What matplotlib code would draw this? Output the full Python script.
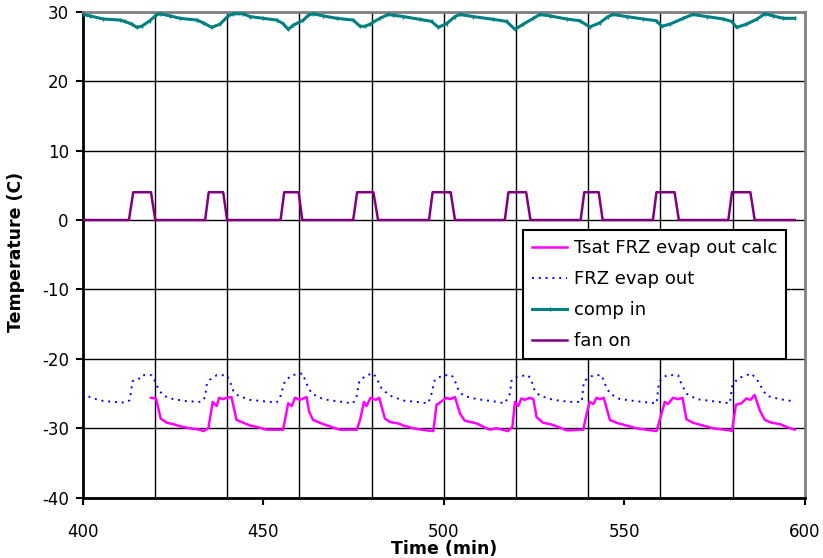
import numpy as np
import matplotlib
matplotlib.use("Agg")
import matplotlib.pyplot as plt
from matplotlib.ticker import MultipleLocator

plt.rcParams['font.family'] = ['DejaVu Sans']
plt.rcParams['axes.unicode_minus'] = False

# --- data (time in min, temperature in C) ---
tsat_t = [418.9, 420.3, 421.6, 423.3, 425.1, 426.9, 429.7, 432.5, 433.4, 434.8,
          436.0, 437.1, 437.8, 438.9, 439.9, 441.2, 442.6, 444.5, 446.3, 448.2,
          450.9, 455.5, 456.9, 457.9, 458.8, 460.2, 462.0, 462.7, 463.8, 466.6,
          469.4, 471.2, 475.9, 476.8, 477.9, 478.6, 479.7, 481.2, 482.1, 483.7,
          485.1, 487.4, 488.8, 491.5, 495.2, 497.1, 498.0, 498.9, 500.8, 501.7,
          503.1, 504.5, 505.8, 509.1, 511.8, 512.8, 514.6, 517.8, 519.0, 519.7,
          520.6, 521.5, 522.4, 523.8, 524.8, 525.7, 527.5, 529.4, 531.2, 534.0,
          538.6, 539.7, 540.4, 541.4, 542.3, 543.2, 544.3, 546.0, 547.8, 550.6,
          553.4, 556.1, 558.9, 559.8, 561.2, 562.1, 563.5, 564.9, 566.1, 567.2,
          569.0, 571.8, 574.6, 579.2, 579.8, 580.9, 582.4, 583.8, 584.9, 586.1,
          587.5, 588.9, 590.8, 593.1, 594.9, 597.2]
tsat_v = [-25.6, -25.7, -28.6, -29.2, -29.4, -29.7, -30.0, -30.2, -30.4, -30.0,
          -26.2, -26.8, -25.6, -25.8, -25.6, -25.5, -28.8, -29.2, -29.6, -29.8,
          -30.2, -30.2, -26.4, -26.8, -25.6, -25.9, -25.5, -27.6, -28.8, -29.4,
          -29.9, -30.2, -30.2, -28.8, -26.2, -26.8, -25.6, -25.9, -25.6, -28.6,
          -29.1, -29.3, -29.6, -30.0, -30.3, -30.4, -26.6, -26.3, -25.6, -25.8,
          -25.5, -27.9, -28.9, -29.3, -30.0, -30.2, -30.0, -30.4, -29.8, -26.2,
          -26.8, -25.7, -25.9, -25.6, -25.8, -28.4, -29.2, -29.4, -29.7, -30.3,
          -30.2, -27.6, -26.2, -26.5, -25.6, -25.8, -25.6, -28.8, -29.2, -29.6,
          -30.0, -30.2, -30.4, -28.8, -26.2, -26.5, -25.6, -25.8, -25.6, -28.7,
          -29.2, -29.6, -30.0, -30.3, -30.4, -26.6, -26.4, -25.7, -25.9, -25.2,
          -27.4, -28.8, -29.2, -29.4, -29.8, -30.2]

evap_t = [400.0, 402.0, 404.8, 408.5, 411.7, 412.9, 413.3, 413.8, 415.4, 416.3,
          419.1, 420.0, 420.9, 422.3, 425.1, 428.8, 432.9, 433.9, 434.3, 435.2,
          437.1, 439.9, 440.8, 441.7, 443.1, 446.3, 450.0, 453.7, 454.8, 456.0,
          457.9, 460.9, 462.0, 463.4, 466.6, 470.3, 474.9, 475.9, 476.6, 478.6,
          480.5, 481.4, 482.8, 485.1, 488.8, 492.5, 495.7, 496.6, 497.5, 499.8,
          502.2, 503.1, 504.0, 505.4, 509.1, 513.7, 516.9, 518.3, 518.8, 520.6,
          523.4, 524.3, 525.2, 526.6, 530.3, 534.9, 538.2, 538.8, 541.4, 543.7,
          544.6, 546.0, 548.8, 553.4, 558.9, 559.6, 561.7, 564.9, 565.8, 567.2,
          570.0, 574.6, 579.2, 579.9, 581.5, 585.2, 587.0, 588.0, 589.4, 593.0,
          596.7]
evap_v = [-24.9, -25.5, -26.0, -26.2, -26.3, -26.0, -25.0, -23.2, -23.0, -22.35,
          -22.35, -23.2, -24.3, -25.3, -25.8, -26.1, -26.2, -25.5, -23.8, -23.0,
          -22.35, -22.35, -23.3, -24.6, -25.3, -25.9, -26.1, -26.3, -25.3, -23.2,
          -22.35, -22.1, -23.6, -25.0, -25.8, -26.1, -26.4, -25.3, -23.2, -22.35,
          -22.1, -22.8, -24.3, -25.3, -26.0, -26.2, -26.4, -25.0, -23.0, -22.35,
          -22.35, -23.2, -24.4, -25.3, -25.8, -26.1, -26.4, -25.0, -23.0, -22.5,
          -22.35, -23.2, -24.6, -25.3, -25.9, -26.2, -26.2, -23.2, -22.35, -22.35,
          -23.6, -25.0, -25.8, -26.1, -26.4, -23.3, -22.35, -22.35, -23.6, -25.0,
          -25.8, -26.1, -26.4, -23.8, -22.8, -22.1, -23.2, -24.1, -25.3, -25.8,
          -26.1]

comp_t = [400.0, 402.0, 405.7, 410.3, 411.7, 413.6, 415.0, 416.3, 418.6, 420.3,
          421.4, 424.2, 426.9, 431.6, 433.4, 435.7, 438.0, 440.3, 441.7, 444.5,
          446.3, 450.0, 453.7, 455.5, 456.9, 458.3, 461.1, 462.5, 463.8, 466.6,
          470.3, 474.9, 476.8, 478.2, 479.5, 482.3, 484.6, 486.0, 488.8, 493.4,
          496.6, 498.5, 500.8, 503.1, 504.5, 508.1, 513.7, 517.4, 519.7, 522.0,
          524.8, 526.6, 529.4, 534.0, 537.7, 540.4, 543.2, 545.5, 546.9, 550.6,
          555.2, 558.9, 560.3, 562.6, 566.3, 569.0, 572.8, 577.4, 579.7, 581.1,
          583.8, 586.6, 588.9, 591.2, 594.0, 597.2]
comp_v = [29.6, 29.4, 28.95, 28.8, 28.6, 28.2, 27.75, 27.9, 28.7, 29.5,
          29.7, 29.4, 29.05, 28.8, 28.4, 27.75, 28.2, 29.4, 29.7, 29.7,
          29.3, 29.05, 28.8, 28.3, 27.45, 28.05, 28.8, 29.5, 29.7, 29.4,
          29.05, 28.8, 27.9, 27.9, 28.2, 29.05, 29.6, 29.5, 29.3, 28.9,
          28.6, 27.75, 28.3, 29.3, 29.6, 29.3, 28.9, 28.6, 27.45, 28.2,
          29.05, 29.6, 29.4, 28.95, 28.7, 27.8, 28.4, 29.3, 29.6, 29.3,
          28.95, 28.7, 27.9, 28.2, 29.05, 29.6, 29.3, 28.95, 28.6, 27.75,
          28.2, 28.9, 29.7, 29.4, 29.05, 29.05]

fan_t = [400.0, 412.8, 414.0, 418.9, 420.1, 433.9, 434.9, 438.9, 440.0,
         454.8, 455.8, 459.8, 460.8, 474.9, 476.0, 480.5, 481.8,
         495.9, 496.9, 501.9, 503.1, 516.9, 517.9, 522.8, 524.0,
         537.9, 538.9, 542.9, 544.0, 557.9, 558.9, 563.9, 565.1,
         578.8, 579.8, 584.9, 586.1, 597.2]
fan_v = [0, 0, 4, 4, 0, 0, 4, 4, 0,
         0, 4, 4, 0, 0, 4, 4, 0,
         0, 4, 4, 0, 0, 4, 4, 0,
         0, 4, 4, 0, 0, 4, 4, 0,
         0, 4, 4, 0, 0]

fig = plt.figure(figsize=(8.23, 5.58), dpi=100)
ax = fig.add_axes([0.1005, 0.108, 0.8775, 0.871])

# grid: every 20 min vertically, every 10 C horizontally
for gx in np.arange(420, 600, 20):
    ax.axvline(gx, color='black', lw=1.0, zorder=1)
ax.yaxis.grid(True, color='black', lw=1.0)
ax.set_axisbelow(True)

ax.plot(tsat_t, tsat_v, color='#FF00FF', lw=1.8, label='Tsat FRZ evap out calc', zorder=3)
ax.plot(evap_t, evap_v, color='#0000FF', lw=1.4, ls=(0, (1, 2.5)), label='FRZ evap out', zorder=3)
ax.plot(comp_t, comp_v, color='#008080', lw=2.2, marker='|', ms=3, mew=1,
        label='comp in', zorder=3)
ax.plot(fan_t, fan_v, color='#800080', lw=1.8, label='fan on', zorder=3)

ax.set_xlim(400, 600)
ax.set_ylim(-40, 30)
ax.xaxis.set_major_locator(MultipleLocator(50))
ax.yaxis.set_major_locator(MultipleLocator(10))
ax.tick_params(direction='out', length=5, width=1.5, labelsize=12, colors='black')
ax.tick_params(axis='x', pad=13)
ax.tick_params(axis='y', pad=5)

for s in ['left', 'bottom']:
    ax.spines[s].set_color('black')
    ax.spines[s].set_linewidth(2)
for s in ['top', 'right']:
    ax.spines[s].set_color('#808080')
    ax.spines[s].set_linewidth(2)

ax.set_xlabel('Time (min)', fontsize=12.5, fontweight='bold')
ax.set_ylabel('Temperature (C)', fontsize=12.5, fontweight='bold')
ax.xaxis.set_label_coords(0.5, -0.087)
ax.yaxis.set_label_coords(-0.08, 0.505)

leg = ax.legend(loc='upper left', bbox_to_anchor=(0.61, 0.551), fontsize=13,
                fancybox=False, framealpha=1, edgecolor='black', handlelength=1.95,
                borderpad=0.5, labelspacing=0.72, handletextpad=0.35, borderaxespad=0)
leg.get_frame().set_linewidth(1.5)

fig.savefig('out.png', dpi=100)
